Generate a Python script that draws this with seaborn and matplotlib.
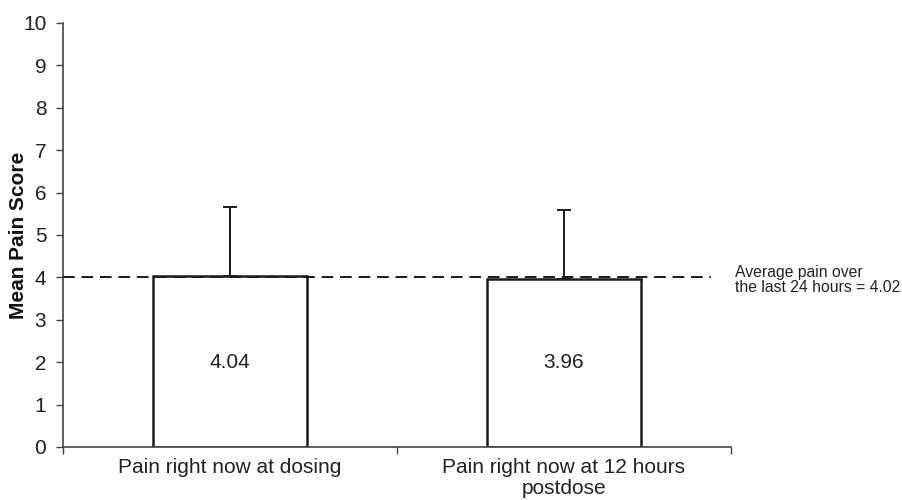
import matplotlib
matplotlib.use("Agg")
import matplotlib.pyplot as plt
import seaborn as sns
import pandas as pd
import numpy as np

categories = ["Pain right now at dosing", "Pain right now at 12 hours\npostdose"]
means = [4.04, 3.96]
sd_upper = [1.62, 1.64]
value_labels = ["4.04", "3.96"]
reference_value = 4.02
reference_label = "Average pain over\nthe last 24 hours = 4.02"
y_ticks = list(range(0, 11))

sns.set_theme(style="white")
plt.rcParams['font.family'] = ['Liberation Sans', 'DejaVu Sans']

df = pd.DataFrame({"category": categories, "mean": means})

fig = plt.figure(figsize=(9.02, 5.0), dpi=100)
ax = fig.add_axes([63/902, 1-447/500, (731-63)/902, (447-23)/500])

sns.barplot(data=df, x="category", y="mean", color="white", edgecolor="#1a1a1a",
            linewidth=1.8, width=0.46, errorbar=None, ax=ax)

xpos = np.arange(len(categories))
ax.errorbar(xpos, means, yerr=[np.zeros(len(means)), sd_upper], fmt="none",
            ecolor="#1a1a1a", elinewidth=1.4, capsize=5, capthick=1.4, zorder=3)

ax.plot([-0.5, 1.44], [reference_value, reference_value], linestyle=(0, (6, 3.5)),
        color="#1a1a1a", linewidth=1.4, zorder=4, clip_on=False)

for x, m, lab in zip(xpos, means, value_labels):
    ax.text(x, 2.0, lab, ha="center", va="center", fontsize=15, color="#222222")

ax.text(1.513, 3.94, reference_label, ha="left", va="center",
        fontsize=11.3, color="#222222", clip_on=False, linespacing=1.0)

ax.set_xlim(-0.5, 1.5)
ax.set_ylim(0, 10)
ax.set_yticks(y_ticks)
ax.set_yticklabels([str(t) for t in y_ticks], fontsize=15, color="#222222")
ax.set_xticks(xpos)
ax.set_xticklabels(categories, fontsize=15, color="#222222", linespacing=1.15)
ax.set_xticks([-0.5, 0.5, 1.5], minor=True)
ax.tick_params(axis="x", which="major", length=0, pad=8)
ax.tick_params(axis="x", which="minor", length=5, width=1, color="#444444", direction="out", bottom=True)
ax.tick_params(axis="y", which="major", length=5, width=1, color="#444444", direction="out", left=True, pad=7)

ax.set_xlabel("")
ax.set_ylabel("Mean Pain Score", fontsize=15, fontweight="bold", color="#111111")
ax.yaxis.set_label_coords(-0.053, 0.5)

for s in ["top", "right"]:
    ax.spines[s].set_visible(False)
for s in ["left", "bottom"]:
    ax.spines[s].set_color("#444444")
    ax.spines[s].set_linewidth(1.2)

fig.savefig("out.png", dpi=100)
